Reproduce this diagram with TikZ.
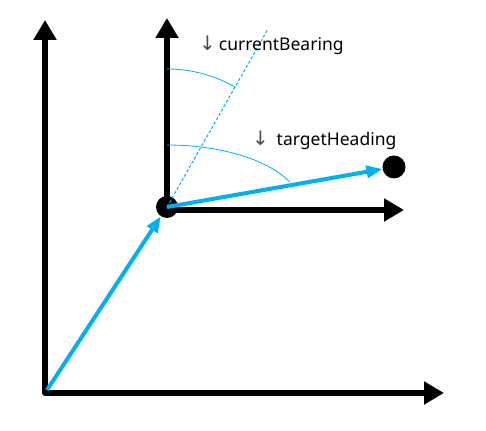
\documentclass[tikz,border=0pt]{standalone}
\usepackage{fontspec}
\setmainfont{Noto Sans}
\newfontfamily\arrowfont{DejaVu Sans}
\usetikzlibrary{arrows.meta}
\definecolor{skyblue}{RGB}{0,176,240}
\tikzset{
  axis/.style={line width=6pt, line join=round, -{Triangle[length=20pt,width=22pt]}},
  bigaxes/.style={line width=6pt, line join=round, {Triangle[length=20pt,width=22pt]}-{Triangle[length=20pt,width=22pt]}},
  bluearrow/.style={skyblue, line width=4pt, -{Triangle[length=16pt,width=12pt]}},
  anglearc/.style={skyblue, line width=0.8pt},
  guide/.style={skyblue, line width=1pt, dash pattern=on 3pt off 2pt},
  dot/.style={circle, fill=black, inner sep=0pt, minimum size=23pt},
  lbl/.style={font=\fontsize{17.5}{20}\selectfont, anchor=west, inner sep=0pt}
}
\begin{document}
\begin{tikzpicture}[x=1pt,y=-1pt]
\useasboundingbox (0,0) rectangle (486,430);
% big axes
\coordinate (O) at (45,393);
\coordinate (Oy) at (45,20);
\coordinate (Ox) at (444,393);
\draw[bigaxes] (Oy) -- (O) -- (Ox);
% small axes
\coordinate (P) at (167,210);
\coordinate (Py) at (167,18);
\coordinate (Px) at (404,210);
\draw[axis] (P) -- (Py);
\draw[axis] (P) -- (Px);
% nodes
\node[dot, minimum size=22pt] (c) at (167,207) {};
\node[dot] (t) at (394,167) {};
% dashed bearing line
\coordinate (B) at (268,29);
\draw[guide] (c.center) -- (B);
% arcs
\draw[anglearc] (167,69) arc[start angle=90, end angle=60.4, radius=138pt];
\draw[anglearc] (167,145) arc[start angle=90, end angle=23.4, x radius=134pt, y radius=62pt];
% blue arrows
\draw[bluearrow] (47,390) -- (c);
\draw[bluearrow] (c.center) -- (t);
% labels
\node[lbl] (l1) at (199,45) {{\arrowfont\fontsize{20}{20}\selectfont\textcolor{black!70}{↓}}\,currentBearing};
\node[lbl] (l2) at (252,140) {{\arrowfont\fontsize{20}{20}\selectfont\textcolor{black!70}{↓}}\;\,targetHeading};
\end{tikzpicture}
\end{document}
